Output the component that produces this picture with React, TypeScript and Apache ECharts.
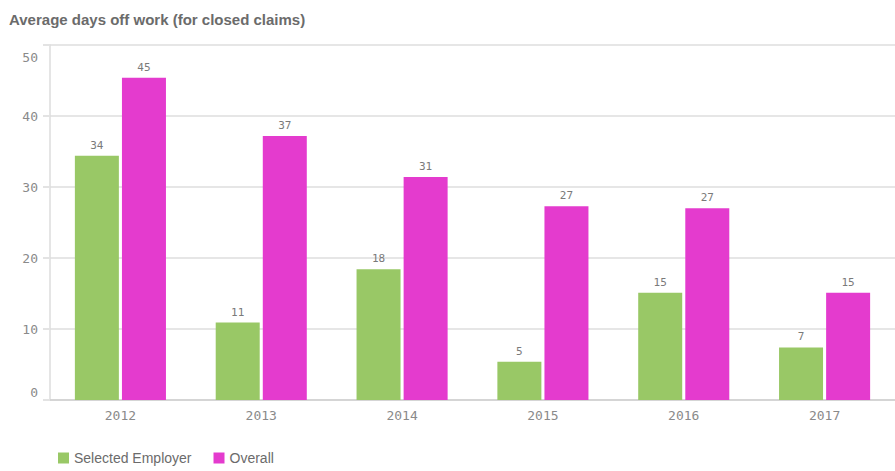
import React, { useEffect, useRef } from "react";
import * as echarts from "echarts";

const years = ["2012", "2013", "2014", "2015", "2016", "2017"];
const selectedEmployer = [34.4, 10.9, 18.4, 5.4, 15.1, 7.4];
const overall = [45.4, 37.2, 31.4, 27.3, 27.0, 15.1];
const yTicks = { min: 0, max: 50, interval: 10 };

const GREEN = "#99c866";
const MAGENTA = "#e43bce";
const MONO = "'DejaVu Sans Mono', monospace";
const SANS = "'Liberation Sans', Arial, sans-serif";

export default function App() {
  const ref = useRef<HTMLDivElement>(null);
  useEffect(() => {
    document.body.style.margin = "0";
    const chart = echarts.init(ref.current!, null, { renderer: "svg" });
    const label = {
      show: true,
      position: "top" as const,
      distance: 5,
      fontFamily: MONO,
      fontSize: 11,
      color: "#7a7a7a",
      formatter: (p: any) => String(Math.round(p.value)),
    };
    chart.setOption({
      animation: false,
      backgroundColor: "#ffffff",
      title: {
        text: "Average days off work (for closed claims)",
        left: 4,
        top: 7,
        textStyle: {
          fontFamily: SANS,
          fontWeight: "bold",
          fontSize: 15,
          color: "#6b6b6b",
        },
      },
      legend: {
        left: 58,
        top: 450,
        padding: 0,
        itemWidth: 11,
        itemHeight: 11,
        itemGap: 22,
        icon: "rect",
        textStyle: { fontFamily: SANS, fontSize: 14, color: "#6b6b6b", lineHeight: 16 },
        data: ["Selected Employer", "Overall"],
      },
      grid: { left: 50, top: 45, width: 852, height: 355, containLabel: false },
      xAxis: {
        type: "category",
        data: years,
        axisLine: { show: true, lineStyle: { color: "#cfcfcf", width: 1.5 } },
        axisTick: { show: false },
        axisLabel: { fontFamily: MONO, fontSize: 13, color: "#8a8a8a", margin: 9 },
      },
      yAxis: {
        type: "value",
        min: yTicks.min,
        max: yTicks.max,
        interval: yTicks.interval,
        axisLine: { show: true, lineStyle: { color: "#dcdcdc", width: 1.5 } },
        axisTick: { show: true, length: 7, lineStyle: { color: "#e3e3e3", width: 2 } },
        splitLine: { show: true, lineStyle: { color: "#e6e6e6", width: 2 } },
        axisLabel: {
          fontFamily: MONO,
          fontSize: 13,
          color: "#8a8a8a",
          margin: 12,
          formatter: (v: number) =>
            v === yTicks.max ? `{top|${v}}` : v === yTicks.min ? `{bot|${v}}` : `${v}`,
          rich: {
            top: { fontFamily: MONO, fontSize: 13, color: "#8a8a8a", padding: [24, 0, 0, 0] },
            bot: { fontFamily: MONO, fontSize: 13, color: "#8a8a8a", padding: [0, 0, 16, 0] },
          },
        },
      },
      series: [
        {
          name: "Selected Employer",
          type: "bar",
          data: selectedEmployer,
          barWidth: 44,
          barGap: "7%",
          itemStyle: { color: GREEN },
          label,
        },
        {
          name: "Overall",
          type: "bar",
          data: overall,
          barWidth: 44,
          itemStyle: { color: MAGENTA },
          label,
        },
      ],
    });
    return () => chart.dispose();
  }, []);
  return <div ref={ref} style={{ width: 895, height: 471 }} />;
}
